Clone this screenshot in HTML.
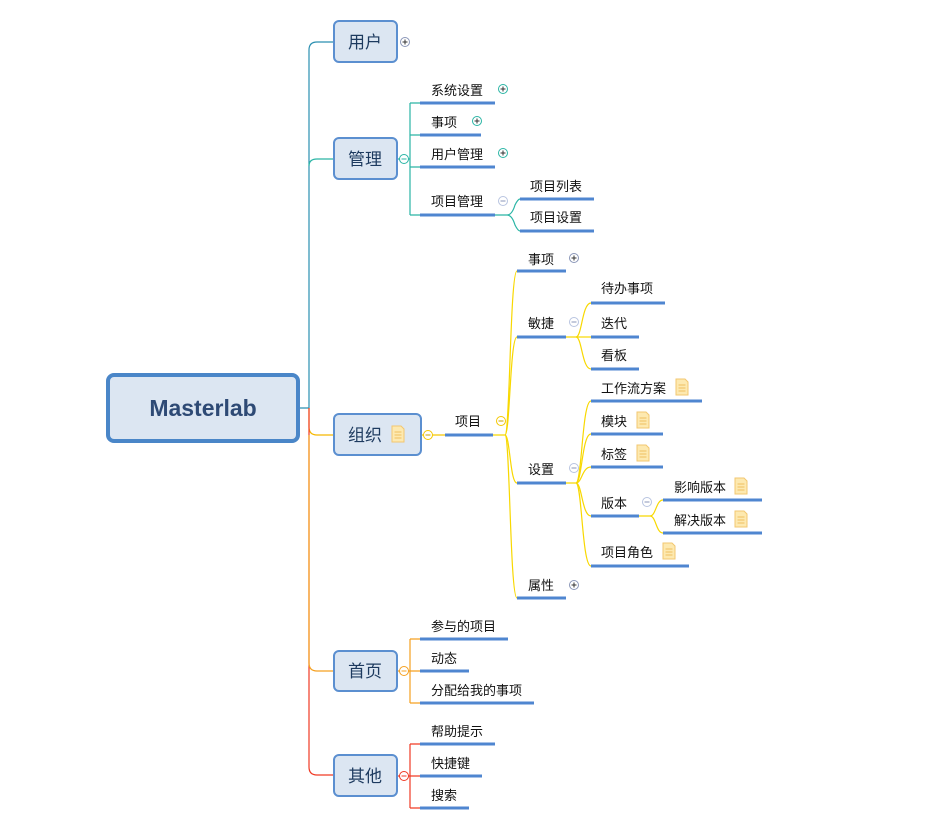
<!DOCTYPE html>
<html><head><meta charset="utf-8"><style>
html,body{margin:0;padding:0;background:#fff}
svg text{font-family:"Liberation Sans","Noto Sans CJK SC",sans-serif;fill:#111}
.t{font-size:13px}
.b{font-size:17px;fill:#1d3a5f}
</style></head><body>
<svg width="946" height="835" viewBox="0 0 946 835" xmlns="http://www.w3.org/2000/svg">
<defs>
<g id="plus"><circle r="4.5" fill="#fff" stroke="#8a96b8" stroke-width="1"/><path d="M-2.5 0H2.5M0 -2.5V2.5" stroke="#333" stroke-width="1"/></g>
<g id="plusT"><circle r="4.5" fill="#fff" stroke="#2ab5a5" stroke-width="1"/><path d="M-2.5 0H2.5M0 -2.5V2.5" stroke="#333" stroke-width="1"/></g>
<g id="minusB"><circle r="4.5" fill="#fff" stroke="#b8c4e0" stroke-width="1"/><path d="M-2.5 0H2.5" stroke="#8a96b8" stroke-width="1"/></g>
<g id="note"><path d="M-6 -8H3L6 -5V8H-6Z" fill="#fde9b0" stroke="#f2c770" stroke-width="1"/><path d="M-3.5 -2H3.5M-3.5 1H3.5M-3.5 4H3.5" stroke="#f0c060" stroke-width="1"/></g>
</defs>
<g fill="none" stroke-width="1.2">
<path d="M299 408H309V50Q309 42 317 42H334" stroke="#2a8fb0"/>
<path d="M309 166Q309 159 317 159H334" stroke="#2ab5a5"/>
<path d="M309 408V427Q309 435 317 435H334" stroke="#f5b800"/>
<path d="M309 408V767Q309 775 317 775H334" stroke="#f03a24"/>
<path d="M309 435V663Q309 671 317 671H334" stroke="#f5a020"/>
<path d="M397 159H410M410 103V215M410 103H420M410 135H420M410 167H420M410 215H420" stroke="#2ab5a5"/>
<path d="M495 215H507Q512 215 515 205Q518 199 520 199M507 215Q512 215 515 225Q518 231 520 231" stroke="#2ab5a5"/>
<path d="M421 435H445" stroke="#f5c800"/>
<g stroke="#f8d800">
<path d="M493 435H505C510 435 510 271 517 271"/>
<path d="M505 435C510 435 510 337 517 337"/>
<path d="M505 435C510 435 510 483 517 483"/>
<path d="M505 435C510 435 510 598 517 598"/>
<path d="M566 337H576C582 337 582 303 591 303"/>
<path d="M576 337H591"/>
<path d="M576 337C582 337 582 369 591 369"/>
<path d="M566 483H576C582 483 582 401 591 401"/>
<path d="M576 483C582 483 582 434 591 434"/>
<path d="M576 483C582 483 582 467 591 467"/>
<path d="M576 483C582 483 582 516 591 516"/>
<path d="M576 483C582 483 582 566 591 566"/>
<path d="M639 516H650C656 516 656 500 663 500"/>
<path d="M650 516C656 516 656 533 663 533"/>
</g>
<path d="M397 671H410M410 639V703M410 639H420M410 671H420M410 703H420" stroke="#f5a020"/>
<path d="M397 776H410M410 744V808M410 744H420M410 776H420M410 808H420" stroke="#f03a24"/>
</g>
<rect x="108" y="375" width="190" height="66" rx="6" fill="#dce6f2" stroke="#4a86c8" stroke-width="4"/>
<text x="203" y="416" text-anchor="middle" style="font-size:23px;font-weight:bold;fill:#2e4a75">Masterlab</text>
<g fill="#dce6f2" stroke="#5b8fd0" stroke-width="2">
<rect x="334" y="21" width="63" height="41" rx="5"/>
<rect x="334" y="138" width="63" height="41" rx="5"/>
<rect x="334" y="414" width="87" height="41" rx="5"/>
<rect x="334" y="651" width="63" height="40" rx="5"/>
<rect x="334" y="755" width="63" height="41" rx="5"/>
</g>
<text class="b" x="365" y="48" text-anchor="middle">用户</text>
<text class="b" x="365" y="165" text-anchor="middle">管理</text>
<text class="b" x="365" y="441" text-anchor="middle">组织</text>
<text class="b" x="365" y="677" text-anchor="middle">首页</text>
<text class="b" x="365" y="782" text-anchor="middle">其他</text>
<g stroke="#4f86d0" stroke-width="3">
<path d="M420 103H495M420 135H481M420 167H495M420 215H495M520 199H594M520 231H594"/>
<path d="M445 435H493M517 271H566M517 337H566M517 483H566M517 598H566"/>
<path d="M591 303H665M591 337H639M591 369H639"/>
<path d="M591 401H702M591 434H663M591 467H663M591 516H639M591 566H689M663 500H762M663 533H762"/>
<path d="M420 639H508M420 671H469M420 703H534M420 744H495M420 776H482M420 808H469"/>
</g>
<g class="t">
<text class="t" x="431" y="95">系统设置</text>
<text class="t" x="431" y="127">事项</text>
<text class="t" x="431" y="159">用户管理</text>
<text class="t" x="431" y="206">项目管理</text>
<text class="t" x="530" y="191">项目列表</text>
<text class="t" x="530" y="222">项目设置</text>
<text class="t" x="455" y="426">项目</text>
<text class="t" x="528" y="264">事项</text>
<text class="t" x="528" y="328">敏捷</text>
<text class="t" x="528" y="474">设置</text>
<text class="t" x="528" y="590">属性</text>
<text class="t" x="601" y="293">待办事项</text>
<text class="t" x="601" y="328">迭代</text>
<text class="t" x="601" y="360">看板</text>
<text class="t" x="601" y="393">工作流方案</text>
<text class="t" x="601" y="426">模块</text>
<text class="t" x="601" y="459">标签</text>
<text class="t" x="601" y="508">版本</text>
<text class="t" x="601" y="557">项目角色</text>
<text class="t" x="674" y="492">影响版本</text>
<text class="t" x="674" y="525">解决版本</text>
<text class="t" x="431" y="631">参与的项目</text>
<text class="t" x="431" y="663">动态</text>
<text class="t" x="431" y="695">分配给我的事项</text>
<text class="t" x="431" y="736">帮助提示</text>
<text class="t" x="431" y="768">快捷键</text>
<text class="t" x="431" y="800">搜索</text>
</g>
<use href="#plus" x="405" y="42"/>
<circle cx="404" cy="159" r="4.5" fill="#fff" stroke="#2ab5a5"/><path d="M401.5 159H406.5" stroke="#2ab5a5"/>
<use href="#plusT" x="503" y="89"/>
<use href="#plusT" x="477" y="121"/>
<use href="#plusT" x="503" y="153"/>
<use href="#minusB" x="503" y="201"/>
<circle cx="428" cy="435" r="4.5" fill="#fff" stroke="#f5c800"/><path d="M425.5 435H430.5" stroke="#c8a000"/>
<circle cx="501" cy="421" r="4.5" fill="#fff" stroke="#f5c800"/><path d="M498.5 421H503.5" stroke="#c8a000"/>
<use href="#plus" x="574" y="258"/>
<use href="#minusB" x="574" y="322"/>
<use href="#minusB" x="574" y="468"/>
<use href="#plus" x="574" y="585"/>
<use href="#minusB" x="647" y="502"/>
<circle cx="404" cy="671" r="4.5" fill="#fff" stroke="#f5a020"/><path d="M401.5 671H406.5" stroke="#f5a020"/>
<circle cx="404" cy="776" r="4.5" fill="#fff" stroke="#f03a24"/><path d="M401.5 776H406.5" stroke="#f03a24"/>
<use href="#note" x="398" y="434"/>
<use href="#note" x="682" y="387"/>
<use href="#note" x="643" y="420"/>
<use href="#note" x="643" y="453"/>
<use href="#note" x="669" y="551"/>
<use href="#note" x="741" y="486"/>
<use href="#note" x="741" y="519"/>
</svg>
</body></html>
